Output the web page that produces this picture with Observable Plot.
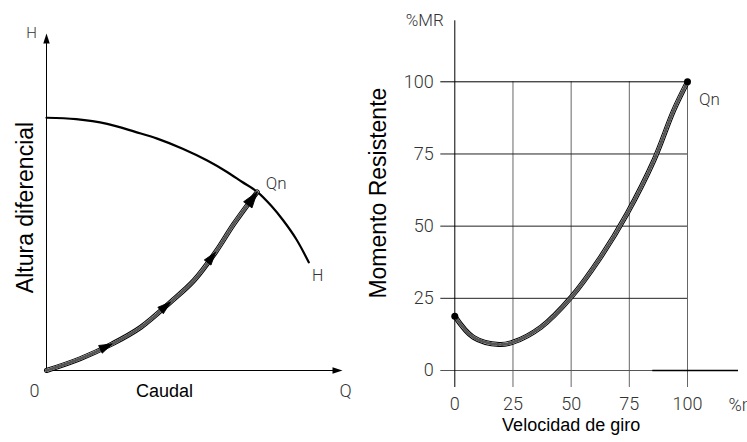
<!DOCTYPE html>
<html><head><meta charset="utf-8">
<script src="https://cdn.jsdelivr.net/npm/d3@7"></script>
<script src="https://cdn.jsdelivr.net/npm/@observablehq/plot@0.6"></script>
<style>
html,body{margin:0;padding:0;background:#fff;overflow:hidden;}
#wrap{position:relative;width:747px;height:442px;}
#left,#right{position:absolute;top:0;}
#left{left:0;} #right{left:370px;}
</style></head><body><div id="wrap"><div id="left"></div><div id="right"></div></div>
<script>
// ---- data ----
// Left chart: pump curve H(Q) and system curve
const pumpQ = [0, 10, 20.5, 30, 37.4, 46, 54.3, 61, 66, 71.2, 76, 80, 84.5, 88.6];
const pumpH = [75, 74.6, 73.2, 70.8, 68.8, 65.8, 62.3, 58.9, 56.0, 53.0, 48.8, 44.5, 38.8, 32.1];
const systemQ = [0, 11.4, 22.2, 31.8, 41.9, 49.8, 57.1, 63.3, 71.2];
const systemH = [0, 3.5, 7.9, 12.8, 20.3, 26.7, 35.1, 43.5, 53.0];
const arrowIdx = [2, 4, 6, 8];
// Right chart: resistant torque vs speed
const speed = [0, 8, 19, 25, 37, 50, 62.6, 74, 85.5, 94, 100];
const torque = [18.8, 11.5, 9, 9.8, 15, 25.4, 39.2, 54.3, 72.7, 90, 100];
const xTicks = [0, 25, 50, 75, 100];
const yTicks = [0, 25, 50, 75, 100];
const gridY = [25, 50, 75];
const gridX = [25, 50, 75, 100];
// labels
const leftTitleX = "Caudal", leftTitleY = "Altura diferencial";
const rightTitleX = "Velocidad de giro", rightTitleY = "Momento Resistente";

const narrow = "Roboto,'Liberation Sans Narrow',sans-serif";
const sans = "'Liberation Sans',Arial,sans-serif";
const tickColor = "#333";
const tickWeight = 300;

// arrowhead symbol: tip at the anchor point, pointing up before rotation
const arrowHead = {
  draw(ctx, size) {
    const r = Math.sqrt(size / Math.PI);
    ctx.moveTo(0, 0);
    ctx.lineTo(-0.65 * r, 2 * r);
    ctx.lineTo(0.65 * r, 2 * r);
    ctx.closePath();
  }
};

function hatched(data, x, y, w) {
  const curve = "catmull-rom";
  return [
    Plot.line(data, {x, y, curve, stroke: "#000", strokeWidth: w}),
    Plot.line(data, {x, y, curve, stroke: "#fff", strokeWidth: w - 2}),
    Plot.line(data, {x, y, curve, stroke: "#555", strokeWidth: w - 2, strokeDasharray: "2 1.8"})
  ];
}

const txt = {fontWeight: tickWeight, fill: tickColor, textAnchor: "middle", lineAnchor: "middle"};

// ---------- LEFT ----------
{
  const W = 370, H = 442, mL = 46, mR = 28, mT = 33, mB = 72;
  const kx = (W - mL - mR) / 100, ky = (H - mT - mB) / 100;
  const pump = pumpQ.map((q, i) => ({q, h: pumpH[i]}));
  const sys = systemQ.map((q, i) => ({q, h: systemH[i]}));
  const arrows = arrowIdx.map((i, j) => {
    const a = sys[i - 1], b = sys[i];
    const rot = Math.atan2((b.q - a.q) * kx, (b.h - a.h) * ky) * 180 / Math.PI;
    return {q: b.q, h: b.h, rot, big: j === arrowIdx.length - 1};
  });
  const qn = sys[sys.length - 1];
  const pumpEnd = pump[pump.length - 1];
  const axisTips = [{q: 0, h: 100, rot: 0}, {q: 100, h: 0, rot: 90}];
  const plot = Plot.plot({
    width: W, height: H, marginLeft: mL, marginRight: mR, marginTop: mT, marginBottom: mB,
    x: {domain: [0, 100], axis: null},
    y: {domain: [0, 100], axis: null},
    style: {fontFamily: narrow, fontSize: "18px", background: "transparent", overflow: "visible"},
    marks: [
      Plot.ruleX([0], {y1: 0, y2: 97, stroke: "#000", strokeWidth: 1}),
      Plot.ruleY([0], {x1: 0, x2: 97, stroke: "#000", strokeWidth: 1}),
      Plot.dot(axisTips, {x: "q", y: "h", symbol: arrowHead, r: 5, rotate: "rot", fill: "#000", stroke: "none"}),
      Plot.line(pump, {x: "q", y: "h", curve: "catmull-rom", stroke: "#000", strokeWidth: 2.2}),
      ...hatched(sys, "q", "h", 5),
      Plot.dot(arrows.filter(d => !d.big), {x: "q", y: "h", symbol: arrowHead, r: 6.5, rotate: "rot", fill: "#000", stroke: "#000", strokeWidth: 0.8}),
      Plot.dot(arrows.filter(d => d.big), {x: "q", y: "h", symbol: arrowHead, r: 8, rotate: "rot", fill: "#000", stroke: "#000", strokeWidth: 0.8}),
      Plot.text(["H"], {...txt, x: 0, y: 100, dx: -15, dy: 0, fontSize: 15}),
      Plot.text(["0"], {...txt, x: 0, y: 0, dx: -12, dy: 21, fontSize: 18}),
      Plot.text(["Q"], {...txt, x: 100, y: 0, dx: 3, dy: 21, fontSize: 18}),
      Plot.text(["Qn"], {...txt, x: qn.q, y: qn.h, dx: 19, dy: -8, fontSize: 17}),
      Plot.text(["H"], {...txt, x: pumpEnd.q, y: pumpEnd.h, dx: 9, dy: 14, fontSize: 16}),
      Plot.text([leftTitleX], {frameAnchor: "bottom", textAnchor: "middle", lineAnchor: "middle", dx: -30, dy: 21, fontFamily: sans, fontSize: 18, fill: "#000"}),
      Plot.text([leftTitleY], {frameAnchor: "left", textAnchor: "middle", lineAnchor: "middle", rotate: -90, dx: -21, dy: 5.5, fontFamily: sans, fontSize: 23, fill: "#000"})
    ]
  });
  document.getElementById("left").append(plot);
}

// ---------- RIGHT ----------
{
  const W = 377, H = 442, mL = 84.3, mR = 60, mT = 81.3, mB = 72;
  const data = speed.map((s, i) => ({s, t: torque[i]}));
  const ends = [data[0], data[data.length - 1]];
  const plot = Plot.plot({
    width: W, height: H, marginLeft: mL, marginRight: mR, marginTop: mT, marginBottom: mB,
    x: {domain: [0, 100]},
    y: {domain: [0, 100]},
    style: {fontFamily: narrow, fontSize: "18px", background: "transparent", overflow: "visible"},
    marks: [
      Plot.ruleX(gridX, {y1: 100, y2: 0, insetBottom: -17, stroke: "#666", strokeWidth: 1}),
      Plot.ruleY(gridY, {insetLeft: -14, stroke: "#222", strokeWidth: 1}),
      Plot.ruleY([100], {insetLeft: -14, stroke: "#000", strokeWidth: 1}),
      Plot.ruleY([0], {insetLeft: -14, insetRight: -51, stroke: "#555", strokeWidth: 1}),
      Plot.ruleY([0], {insetLeft: 198, insetRight: -51, stroke: "#000", strokeWidth: 1.3}),
      Plot.ruleX([0], {insetTop: -61, insetBottom: -17, stroke: "#000", strokeWidth: 1}),
      Plot.axisY(yTicks, {tickSize: 0, tickPadding: 21, fontSize: 18, fontWeight: tickWeight, label: null, fill: tickColor}),
      Plot.axisX(xTicks, {tickSize: 0, tickPadding: 27, fontSize: 18, fontWeight: tickWeight, label: null, fill: tickColor}),
      ...hatched(data, "s", "t", 5),
      Plot.dot(ends, {x: "s", y: "t", r: 3.5, fill: "#000"}),
      Plot.text(["%MR"], {...txt, frameAnchor: "top-left", dx: -30, dy: -61, fontSize: 17}),
      Plot.text(["%n"], {...txt, frameAnchor: "bottom-right", textAnchor: "start", dx: 41, dy: 35, fontSize: 18}),
      Plot.text(["Qn"], {...txt, x: 100, y: 100, dx: 22, dy: 18, fontSize: 17}),
      Plot.text([rightTitleX], {frameAnchor: "bottom", textAnchor: "middle", lineAnchor: "middle", dy: 55, fontFamily: sans, fontSize: 18, fill: "#000"}),
      Plot.text([rightTitleY], {frameAnchor: "left", textAnchor: "middle", lineAnchor: "middle", rotate: -90, dx: -76, dy: -33, fontFamily: sans, fontSize: 23, fill: "#000"})
    ]
  });
  document.getElementById("right").append(plot);
}
</script></body></html>
